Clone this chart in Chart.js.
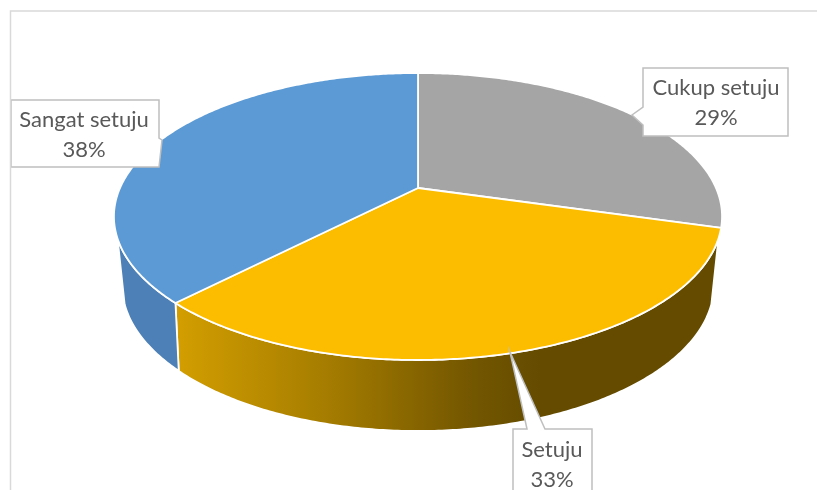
<!DOCTYPE html>
<html>
<head>
<meta charset="utf-8">
<script src="https://cdn.jsdelivr.net/npm/chart.js@4"></script>
<style>
  html, body { margin: 0; padding: 0; background: #fff; overflow: hidden; }
  canvas { display: block; }
</style>
</head>
<body>
<canvas id="pieChart" width="817" height="490"></canvas>
<script>
const categories = ['Cukup setuju', 'Setuju', 'Sangat setuju'];
const percentValues = [29.4, 32.9, 37.7];
const faceColors = ['#A5A5A5', '#FCBD00', '#5B9AD5'];

// perspective of the pie disc: top face and the lower rim of the wall
const topDisc = { cx: 418, c: 298, a: 100.5, b: 188, k: -0.1986 };
const lowDisc = { cx: 418, c: 288.7, a: 83.3, b: 252.9, k: -0.22 };
const wallFrom = 20 * Math.PI / 180;
const wallTo = 160 * Math.PI / 180;

function project(disc, angle) {
    const x = Math.cos(angle), y = Math.sin(angle);
    const w = 1 + disc.k * y;
    return [disc.cx + disc.c * x / w, (disc.a * y + disc.b) / w];
}

function traceRim(ctx, disc, from, to) {
    const steps = Math.max(2, Math.ceil(Math.abs(to - from) / 0.01));
    for (let i = 0; i <= steps; i++) {
        const p = project(disc, from + (to - from) * i / steps);
        ctx.lineTo(p[0], p[1]);
    }
}

function wallFill(ctx, index) {
    if (index === 2) return '#4C80B6';
    const g = ctx.createLinearGradient(181, 0, 540, 0);
    g.addColorStop(0, '#D19D00');
    g.addColorStop(0.4, '#A67D00');
    g.addColorStop(0.8, '#745700');
    g.addColorStop(1, '#644B00');
    return g;
}

const pie3d = {
    id: 'pie3d',
    beforeDatasetsDraw(chart) {
        const ctx = chart.ctx;
        const arcs = chart.getDatasetMeta(0).data;
        ctx.save();
        ctx.lineJoin = 'round';
        ctx.strokeStyle = '#fff';
        ctx.lineWidth = 1.8;
        // walls
        arcs.forEach((arc, i) => {
            const from = Math.max(arc.startAngle, wallFrom);
            const to = Math.min(arc.endAngle, wallTo);
            if (to <= from) return;
            ctx.beginPath();
            traceRim(ctx, topDisc, from, to);
            traceRim(ctx, lowDisc, to, from);
            ctx.closePath();
            ctx.fillStyle = wallFill(ctx, i);
            ctx.fill();
            ctx.stroke();
        });
        // top face
        arcs.forEach((arc, i) => {
            ctx.beginPath();
            ctx.moveTo(topDisc.cx, topDisc.b);
            traceRim(ctx, topDisc, arc.startAngle, arc.endAngle);
            ctx.closePath();
            ctx.fillStyle = faceColors[i];
            ctx.fill();
            ctx.stroke();
        });
        ctx.restore();
        return false;
    }
};

// callout boxes, in the same order as categories
const callouts = [
    { cx: 716, y1: 88, y2: 118, outline: [[643, 68], [788, 68], [788, 136], [643, 136], [643, 125], [632, 115], [643, 107]] },
    { cx: 552, y1: 450, y2: 480, outline: [[527, 429], [510, 352], [545, 429], [592, 429], [592, 500], [513, 500], [513, 429]] },
    { cx: 84, y1: 120, y2: 150, outline: [[11, 100], [159, 100], [159, 138], [162, 140], [159, 167], [11, 167]] }
];

const frameAndLabels = {
    id: 'frameAndLabels',
    afterDraw(chart) {
        const ctx = chart.ctx;
        ctx.save();
        callouts.forEach((box, i) => {
            ctx.beginPath();
            box.outline.forEach(p => ctx.lineTo(p[0], p[1]));
            ctx.closePath();
            ctx.fillStyle = '#fff';
            ctx.fill();
            ctx.strokeStyle = '#BFBFBF';
            ctx.lineWidth = 1.5;
            ctx.stroke();
            ctx.fillStyle = '#595959';
            ctx.font = '22px Lato';
            ctx.textAlign = 'center';
            ctx.textBaseline = 'middle';
            ctx.fillText(categories[i], box.cx, box.y1);
            ctx.fillText(Math.round(percentValues[i]) + '%', box.cx, box.y2);
        });
        // chart area border, only top and left are in the shot
        ctx.beginPath();
        ctx.moveTo(817, 11);
        ctx.lineTo(10.5, 11);
        ctx.lineTo(10.5, 490);
        ctx.strokeStyle = '#D9D9D9';
        ctx.lineWidth = 1.5;
        ctx.stroke();
        ctx.restore();
    }
};

new Chart(document.getElementById('pieChart').getContext('2d'), {
    type: 'pie',
    data: {
        labels: categories,
        datasets: [{ data: percentValues, backgroundColor: faceColors }]
    },
    options: {
        responsive: false,
        animation: false,
        devicePixelRatio: 1,
        plugins: { legend: { display: false }, tooltip: { enabled: false } }
    },
    plugins: [pie3d, frameAndLabels]
});
</script>
</body>
</html>
